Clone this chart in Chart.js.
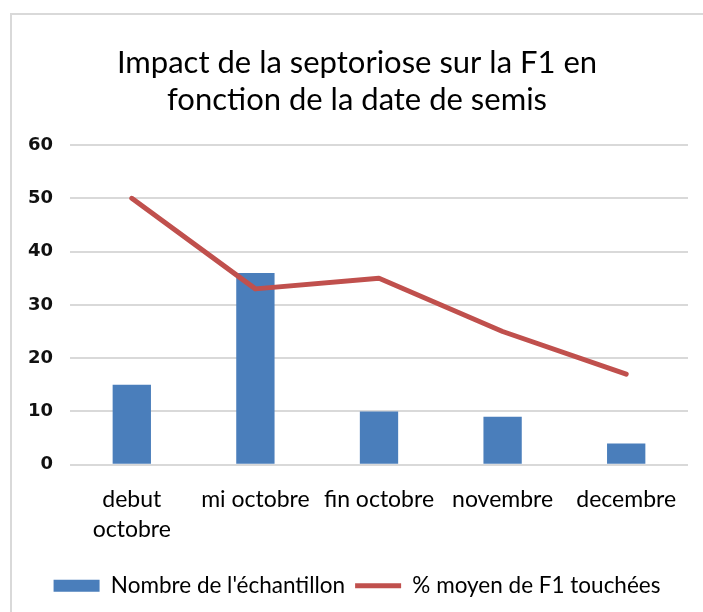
<!DOCTYPE html>
<html>
<head>
<meta charset="utf-8">
<script src="https://cdn.jsdelivr.net/npm/chart.js@4"></script>
<style>
  html, body { margin: 0; padding: 0; background: #fff; }
  #cadre { position: absolute; left: 10px; top: 13px; width: 720px; height: 620px; border: 2px solid #d9d9d9; box-sizing: border-box; }
  #zone { position: absolute; left: 0; top: 0; width: 703px; height: 612px; }
</style>
</head>
<body>
<div id="cadre"></div>
<div id="zone"><canvas id="graphique" width="703" height="612"></canvas></div>
<script>
const dates = [['debut', 'octobre'], 'mi octobre', 'fin octobre', 'novembre', 'decembre'];
const echantillons = [15, 36, 10, 9, 4];
const pourcentages = [50, 33, 35, 25, 17];
const titre = ['Impact de la septoriose sur la F1 en', 'fonction de la date de semis'];

const police = 'Lato, "Open Sans", sans-serif';

const ctx = document.getElementById('graphique').getContext('2d');

new Chart(ctx, {
    type: 'bar',
    data: {
        labels: dates,
        datasets: [{
            type: 'line',
            label: '% moyen de F1 touchées',
            data: pourcentages,
            borderColor: '#c0504d',
            backgroundColor: '#c0504d',
            borderWidth: 5,
            borderCapStyle: 'round',
            borderJoinStyle: 'round',
            pointRadius: 0,
            pointStyle: 'line',
            tension: 0,
            order: 0
        }, {
            label: "Nombre de l'échantillon",
            data: echantillons,
            backgroundColor: '#4a7ebb',
            borderWidth: 0,
            pointStyle: 'rect',
            barPercentage: 0.31,
            categoryPercentage: 1,
            order: 1
        }]
    },
    options: {
        responsive: false,
        animation: false,
        layout: { padding: { left: 26, right: 15, top: 0, bottom: 5 } },
        plugins: {
            tooltip: { enabled: false },
            title: {
                display: true,
                text: titre,
                color: '#000',
                font: { family: police, size: 31, weight: 'normal', lineHeight: 1.21 },
                padding: { top: 44, bottom: 26 }
            },
            legend: {
                position: 'bottom',
                reverse: true,
                labels: {
                    usePointStyle: true,
                    boxWidth: 46,
                    boxHeight: 12,
                    pointStyleWidth: 46,
                    padding: 10,
                    color: '#000',
                    font: { family: police, size: 22.5 }
                }
            }
        },
        scales: {
            x: {
                grid: { display: false, drawTicks: false },
                border: { display: false },
                ticks: {
                    color: '#000',
                    padding: 20,
                    maxRotation: 0,
                    autoSkip: false,
                    font: { family: police, size: 23, lineHeight: 1.3 }
                }
            },
            y: {
                min: 0,
                max: 60,
                ticks: {
                    stepSize: 10,
                    color: '#111',
                    padding: 17,
                    font: { family: '"DejaVu Sans", sans-serif', size: 18, weight: 'bold' }
                },
                grid: { color: '#d9d9d9', lineWidth: 2, drawTicks: false },
                border: { display: false },
                afterFit: function(scale) { scale.width = 44; }
            }
        }
    }
});
</script>
</body>
</html>
